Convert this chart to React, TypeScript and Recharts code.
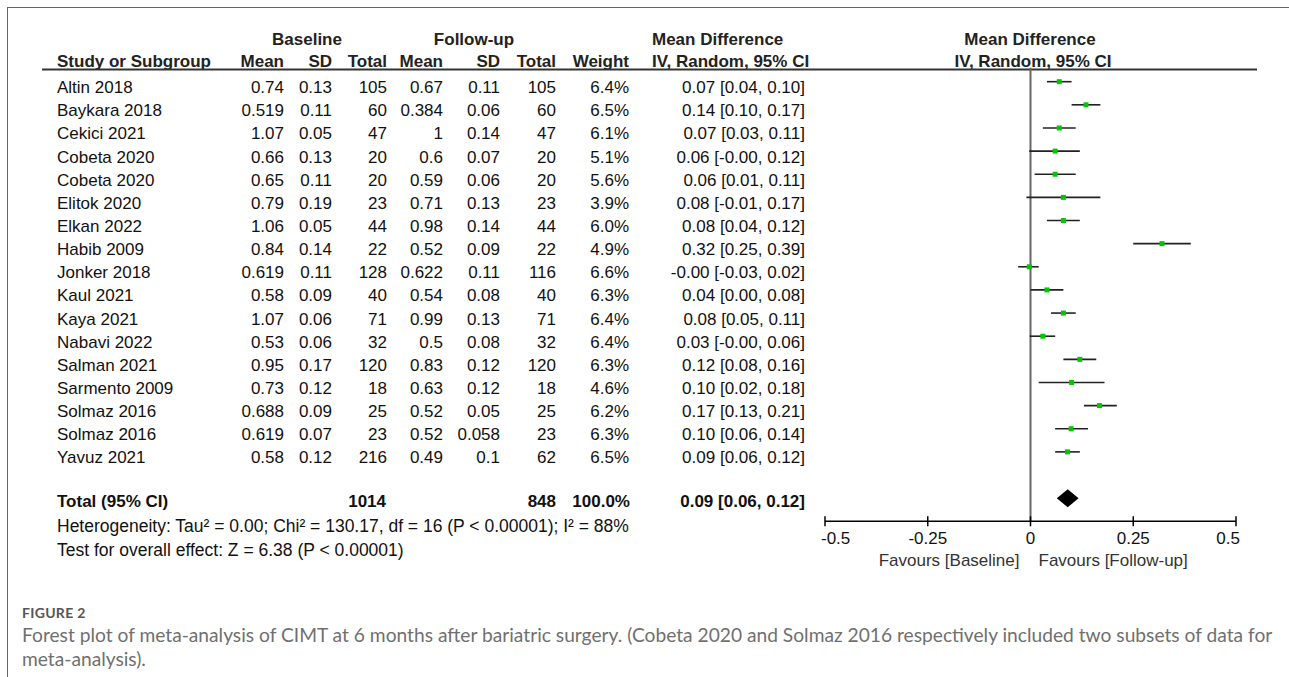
import { ScatterChart, Scatter, XAxis, YAxis, ErrorBar, ReferenceLine, ReferenceArea } from 'recharts';

const studies = [
  'Altin 2018', 'Baykara 2018', 'Cekici 2021', 'Cobeta 2020', 'Cobeta 2020', 'Elitok 2020',
  'Elkan 2022', 'Habib 2009', 'Jonker 2018', 'Kaul 2021', 'Kaya 2021', 'Nabavi 2022',
  'Salman 2021', 'Sarmento 2009', 'Solmaz 2016', 'Solmaz 2016', 'Yavuz 2021',
];
const baseMean = [0.74, 0.519, 1.07, 0.66, 0.65, 0.79, 1.06, 0.84, 0.619, 0.58, 1.07, 0.53, 0.95, 0.73, 0.688, 0.619, 0.58];
const baseSd = [0.13, 0.11, 0.05, 0.13, 0.11, 0.19, 0.05, 0.14, 0.11, 0.09, 0.06, 0.06, 0.17, 0.12, 0.09, 0.07, 0.12];
const baseN = [105, 60, 47, 20, 20, 23, 44, 22, 128, 40, 71, 32, 120, 18, 25, 23, 216];
const fuMean = [0.67, 0.384, 1, 0.6, 0.59, 0.71, 0.98, 0.52, 0.622, 0.54, 0.99, 0.5, 0.83, 0.63, 0.52, 0.52, 0.49];
const fuSd = [0.11, 0.06, 0.14, 0.07, 0.06, 0.13, 0.14, 0.09, 0.11, 0.08, 0.13, 0.08, 0.12, 0.12, 0.05, 0.058, 0.1];
const fuN = [105, 60, 47, 20, 20, 23, 44, 22, 116, 40, 71, 32, 120, 18, 25, 23, 62];
const weight = [6.4, 6.5, 6.1, 5.1, 5.6, 3.9, 6.0, 4.9, 6.6, 6.3, 6.4, 6.4, 6.3, 4.6, 6.2, 6.3, 6.5];
const md = [0.07, 0.135, 0.07, 0.06, 0.06, 0.08, 0.08, 0.32, -0.003, 0.04, 0.08, 0.03, 0.12, 0.10, 0.168, 0.099, 0.09];
const ciLo = [0.04, 0.10, 0.03, -0.003, 0.01, -0.01, 0.04, 0.25, -0.03, 0.0, 0.05, -0.002, 0.08, 0.02, 0.13, 0.06, 0.06];
const ciHi = [0.10, 0.17, 0.11, 0.12, 0.11, 0.17, 0.12, 0.39, 0.02, 0.08, 0.11, 0.06, 0.16, 0.18, 0.21, 0.14, 0.12];

const totalBaseN = 1014;
const totalFuN = 848;
const totalMd = 0.09;
const totalLo = 0.064;
const totalHi = 0.117;
const totalRow = 18;

const xTicks = [-0.5, -0.25, 0, 0.25, 0.5];

const rows = studies.map((_, i) => ({ x: md[i], y: i, err: [md[i] - ciLo[i], ciHi[i] - md[i]] }));
const rowTicks = [...studies.map((_, i) => i), totalRow];

const FONT = '"Liberation Sans", Arial, sans-serif';
const ciText = (m: number, lo: number, hi: number) => `${m.toFixed(2)} [${lo.toFixed(2)}, ${hi.toFixed(2)}]`;

function RowTick(props: any) {
  const { y, payload } = props;
  const i = payload.value;
  const t = { fontFamily: FONT, fontSize: 17, fill: '#111' };
  if (i === totalRow) {
    const by = y + 8.5;
    const b = { ...t, fontWeight: 700 };
    return (
      <g>
        <text x={57} y={by} {...b}>Total (95% CI)</text>
        <text x={386} y={by} textAnchor="end" {...b}>{totalBaseN}</text>
        <text x={556} y={by} textAnchor="end" {...b}>{totalFuN}</text>
        <text x={630} y={by} textAnchor="end" {...b}>100.0%</text>
        <text x={805} y={by} textAnchor="end" {...b}>{ciText(totalMd, totalLo, totalHi)}</text>
      </g>
    );
  }
  const by = y + 11.5;
  return (
    <g>
      <text x={57} y={by} {...t}>{studies[i]}</text>
      <text x={284} y={by} textAnchor="end" {...t}>{String(baseMean[i])}</text>
      <text x={332} y={by} textAnchor="end" {...t}>{String(baseSd[i])}</text>
      <text x={387} y={by} textAnchor="end" {...t}>{baseN[i]}</text>
      <text x={443} y={by} textAnchor="end" {...t}>{String(fuMean[i])}</text>
      <text x={500} y={by} textAnchor="end" {...t}>{String(fuSd[i])}</text>
      <text x={556} y={by} textAnchor="end" {...t}>{fuN[i]}</text>
      <text x={629} y={by} textAnchor="end" {...t}>{weight[i].toFixed(1)}%</text>
      <text x={805} y={by} textAnchor="end" {...t}>{ciText(md[i], ciLo[i], ciHi[i])}</text>
    </g>
  );
}

function XTick(props: any) {
  const { x, y, payload } = props;
  const v = payload.value;
  const first = v === xTicks[0];
  const last = v === xTicks[xTicks.length - 1];
  const anchor = first ? 'start' : last ? 'end' : 'middle';
  const tx = first ? x - 4 : last ? x + 4 : x;
  const t = { fontFamily: FONT, fontSize: 17, fill: '#111' };
  return (
    <g>
      <line x1={x} x2={x} y1={y - 5} y2={y + 5} stroke="#000" strokeWidth={1.5} />
      <text x={tx} y={y + 23} textAnchor={anchor} {...t}>{String(v)}</text>
      {v === 0 && (
        <>
          <text x={x - 11} y={y + 45} textAnchor="end" {...t} fill="#333">Favours [Baseline]</text>
          <text x={x + 8} y={y + 45} textAnchor="start" {...t} fill="#333">Favours [Follow-up]</text>
        </>
      )}
    </g>
  );
}

const Square = (p: any) => <rect x={p.cx - 2.5} y={p.cy - 2.5} width={5} height={5} fill="#00c800" />;

const Diamond = (p: any) => {
  const { x, y, width, height } = p;
  const pts = `${x},${y + height / 2} ${x + width / 2},${y} ${x + width},${y + height / 2} ${x + width / 2},${y + height}`;
  return <polygon points={pts} fill="#000" />;
};

export default function App() {
  const h = { fontFamily: FONT, fontSize: 17, fontWeight: 700, fill: '#222' };
  const f = { fontFamily: FONT, fontSize: 17.5, fill: '#111' };
  return (
    <div style={{ position: 'absolute', left: 0, top: 0, width: 1289, height: 677, background: '#fff', overflow: 'hidden' }}>
      <div style={{ position: 'absolute', left: 7, top: 7, width: 1282, height: 670, borderTop: '1px solid #666', borderLeft: '1px solid #666' }} />
      <svg width={1289} height={580} style={{ position: 'absolute', left: 0, top: 0 }}>
        <text x={307} y={45} textAnchor="middle" {...h}>Baseline</text>
        <text x={474} y={45} textAnchor="middle" {...h}>Follow-up</text>
        <text x={652} y={45} {...h}>Mean Difference</text>
        <text x={1030} y={45} textAnchor="middle" {...h}>Mean Difference</text>
        <text x={57} y={67} {...h}>Study or Subgroup</text>
        <text x={284} y={67} textAnchor="end" {...h}>Mean</text>
        <text x={332} y={67} textAnchor="end" {...h}>SD</text>
        <text x={387} y={67} textAnchor="end" {...h}>Total</text>
        <text x={443} y={67} textAnchor="end" {...h}>Mean</text>
        <text x={500} y={67} textAnchor="end" {...h}>SD</text>
        <text x={556} y={67} textAnchor="end" {...h}>Total</text>
        <text x={629} y={67} textAnchor="end" {...h}>Weight</text>
        <text x={652} y={67} {...h}>IV, Random, 95% CI</text>
        <text x={1033} y={67} textAnchor="middle" {...h}>IV, Random, 95% CI</text>
        <line x1={42} x2={1257} y1={69.5} y2={69.5} stroke="#333" strokeWidth={2} />
        <text x={57} y={532} {...f}>Heterogeneity: Tau² = 0.00; Chi² = 130.17, df = 16 (P &lt; 0.00001); I² = 88%</text>
        <text x={57} y={556} {...f}>Test for overall effect: Z = 6.38 (P &lt; 0.00001)</text>
      </svg>
      <div style={{ position: 'absolute', left: 0, top: 0 }}>
        <ScatterChart width={1289} height={580} margin={{ top: 67.8, right: 53, bottom: 8.7, left: 0 }}>
          <XAxis
            type="number"
            dataKey="x"
            domain={[-0.5, 0.5]}
            ticks={xTicks}
            interval={0}
            height={50}
            tickLine={false}
            tickSize={0}
            tickMargin={0}
            axisLine={{ stroke: '#000', strokeWidth: 1.5 }}
            tick={(p: any) => <XTick {...p} />}
            allowDataOverflow
          />
          <YAxis
            type="number"
            dataKey="y"
            domain={[-0.6, 19]}
            reversed
            ticks={rowTicks}
            interval={0}
            width={825}
            axisLine={false}
            tickLine={false}
            tick={(p: any) => <RowTick {...p} />}
            allowDataOverflow
          />
          <ReferenceLine x={0} stroke="#666" strokeWidth={2} />
          <ReferenceArea x1={totalLo} x2={totalHi} y1={totalRow - 0.39} y2={totalRow + 0.39} shape={Diamond} />
          <Scatter data={rows} shape={Square} isAnimationActive={false}>
            <ErrorBar dataKey="err" direction="x" width={0} stroke="#222" strokeWidth={1.6} />
          </Scatter>
        </ScatterChart>
      </div>
      <div style={{ position: 'absolute', left: 22, top: 604, fontFamily: 'Lato, sans-serif', fontWeight: 700, fontSize: 14, color: '#555', letterSpacing: 0.3, whiteSpace: 'nowrap' }}>
        FIGURE 2
      </div>
      <div style={{ position: 'absolute', left: 22, top: 623, fontFamily: 'Lato, sans-serif', fontSize: 19.2, lineHeight: '24px', color: '#6f6f6f', whiteSpace: 'nowrap' }}>
        Forest plot of meta-analysis of CIMT at 6 months after bariatric surgery. (Cobeta 2020 and Solmaz 2016 respectively included two subsets of data for
        <br />
        meta-analysis).
      </div>
    </div>
  );
}
